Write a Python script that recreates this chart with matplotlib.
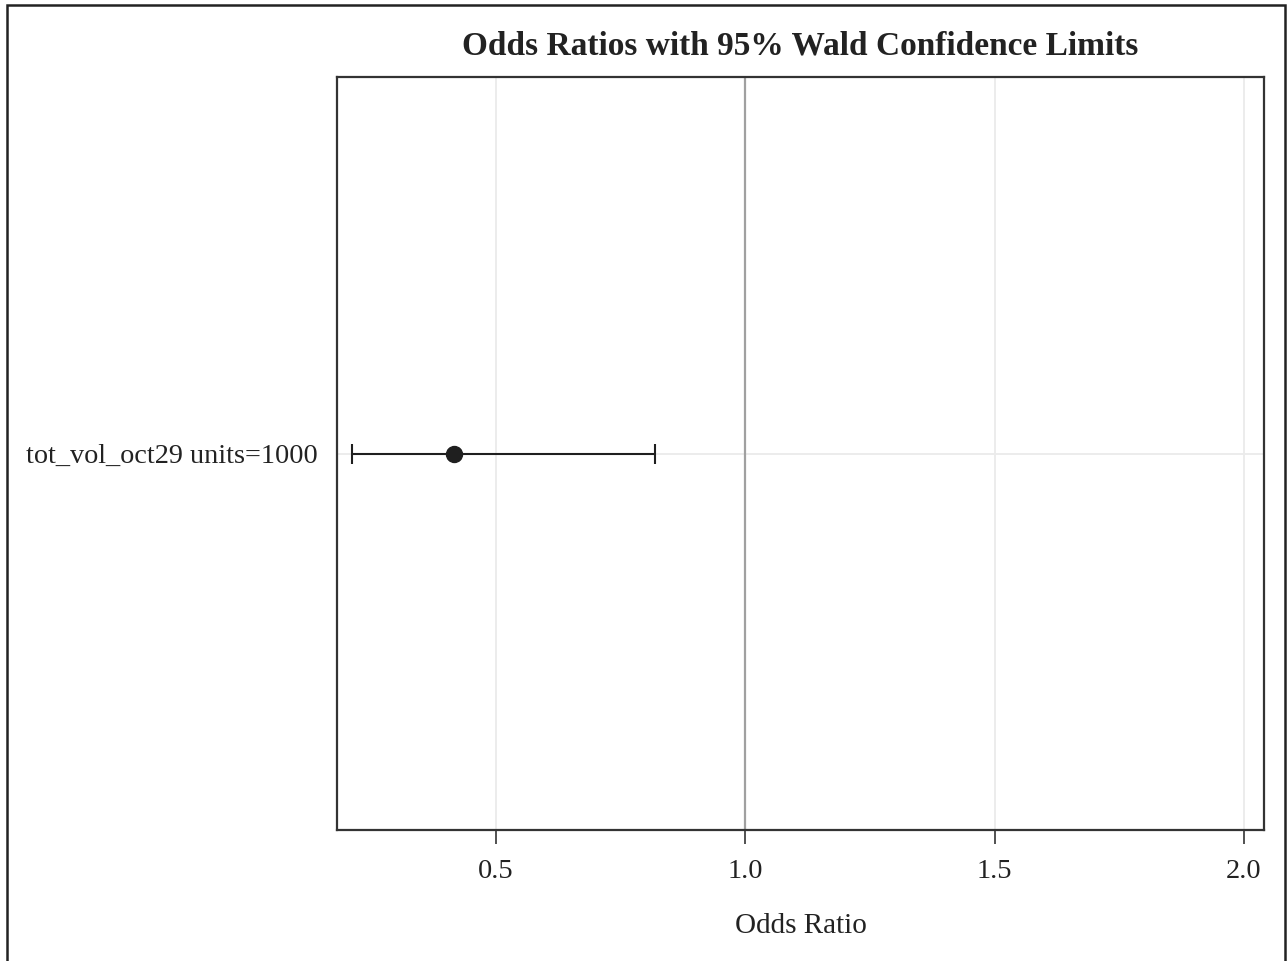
import matplotlib
matplotlib.use("Agg")
import matplotlib.pyplot as plt
from matplotlib.patches import Rectangle

# data
effects = ["tot_vol_oct29 units=1000"]
odds_ratio = [0.416]
lower_cl = [0.211]
upper_cl = [0.819]
xticks = [0.5, 1.0, 1.5, 2.0]

plt.rcParams['font.family'] = ['Liberation Serif', 'DejaVu Serif']

fig = plt.figure(figsize=(12.88, 9.61), dpi=100)
ax = fig.add_axes([337/1288, 1 - 830/961, (1264-337)/1288, (830-77)/961])

ypos = list(range(len(effects)))
err_lo = [o - l for o, l in zip(odds_ratio, lower_cl)]
err_hi = [u - o for o, u in zip(odds_ratio, upper_cl)]

ax.errorbar(odds_ratio, ypos, xerr=[err_lo, err_hi], fmt='o', color='#1f1f1f',
            ms=11.5, capsize=7, elinewidth=1.5, capthick=1.5, zorder=3)
ax.axvline(1.0, color='#a0a0a0', lw=1.6, zorder=1)

ax.set_xlim(0.181, 2.04)
ax.set_ylim(-0.5, 0.5)
ax.set_xticks(xticks)
ax.set_xticklabels([f"{t:.1f}" for t in xticks])
ax.set_yticks(ypos)
ax.set_yticklabels(effects)
ax.grid(True, color='#ebebeb', lw=1.3, zorder=0)
ax.set_axisbelow(True)

ax.tick_params(axis='x', length=10, width=1.2, color='#333333', labelsize=20.5, pad=11,
               labelcolor='#222222')
ax.tick_params(axis='y', length=0, labelsize=20.3, pad=14, labelcolor='#222222')
for s in ax.spines.values():
    s.set_color('#333333')
    s.set_linewidth(1.6)

ax.set_xlabel("Odds Ratio", fontsize=21, labelpad=21, color='#222222')
fig.text((337+1264)/2/1288, 1 - 46/961, "Odds Ratios with 95% Wald Confidence Limits",
         ha='center', va='center', fontsize=24, fontweight='bold', color='#222222')

# outer border
fig.patches.append(Rectangle((7/1288, -0.05), (1285-7)/1288, 1.05 - 5/961,
                             transform=fig.transFigure, fill=False,
                             edgecolor='#222222', lw=1.8))

fig.savefig("out.png", dpi=100)
